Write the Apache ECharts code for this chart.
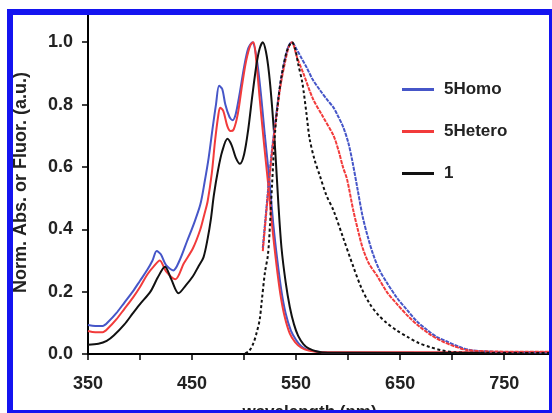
<!DOCTYPE html>
<html>
<head>
<meta charset="utf-8">
<script src="https://cdn.jsdelivr.net/npm/echarts@6/dist/echarts.min.js"></script>
<style>
  html, body { margin: 0; padding: 0; background: #fff; }
  #chart { width: 552px; height: 413px; }
</style>
</head>
<body>
<div id="chart"></div>
<script>
// [wavelength nm, normalised intensity]
const homoAbs = [[350,0.093],[357,0.09],[364,0.09],[370,0.105],[377,0.13],[385,0.165],[393,0.2],[400,0.235],[407,0.27],[412,0.3],[416,0.33],[420,0.32],[425,0.285],[432,0.268],[438,0.3],[445,0.36],[452,0.42],[458,0.48],[462,0.55],[466,0.63],[470,0.73],[473,0.8],[476,0.86],[479,0.85],[482,0.8],[486,0.76],[489,0.75],[492,0.77],[496,0.84],[500,0.92],[504,0.98],[508,1.0],[512,0.95],[516,0.84],[520,0.7],[524,0.57],[528,0.42],[532,0.3],[536,0.2],[540,0.13],[545,0.075],[550,0.045],[555,0.025],[560,0.015],[570,0.008],[580,0.005],[650,0.004],[795,0.004]];
const homoEm = [[518,0.34],[521,0.45],[524,0.56],[527,0.66],[531,0.77],[535,0.87],[539,0.94],[543,0.99],[546,1.0],[550,0.98],[555,0.95],[560,0.92],[566,0.88],[573,0.846],[580,0.815],[586,0.79],[590,0.765],[595,0.73],[600,0.68],[604,0.62],[609,0.53],[614,0.44],[619,0.375],[624,0.32],[630,0.27],[637,0.23],[647,0.18],[657,0.14],[666,0.105],[676,0.077],[685,0.055],[695,0.04],[706,0.024],[717,0.013],[740,0.007],[795,0.005]];
const heteroAbs = [[350,0.074],[357,0.07],[364,0.07],[370,0.085],[377,0.11],[385,0.145],[393,0.18],[400,0.215],[407,0.255],[413,0.28],[419,0.3],[425,0.265],[434,0.24],[442,0.29],[451,0.34],[458,0.4],[462,0.45],[465,0.49],[469,0.58],[472,0.68],[475,0.76],[477,0.79],[480,0.78],[484,0.73],[487,0.715],[490,0.72],[494,0.77],[498,0.86],[502,0.94],[506,0.99],[509,1.0],[512,0.93],[515,0.82],[519,0.68],[523,0.55],[527,0.41],[531,0.29],[535,0.19],[539,0.12],[544,0.065],[549,0.038],[555,0.02],[562,0.011],[575,0.006],[650,0.006],[795,0.006]];
const heteroEm = [[518,0.33],[521,0.44],[524,0.55],[527,0.65],[531,0.76],[535,0.86],[539,0.93],[543,0.985],[546,1.0],[551,0.95],[557,0.9],[566,0.82],[576,0.76],[586,0.7],[591,0.65],[595,0.6],[599,0.56],[605,0.46],[610,0.39],[614,0.34],[620,0.29],[628,0.25],[637,0.2],[647,0.16],[658,0.12],[669,0.087],[680,0.06],[691,0.04],[702,0.025],[714,0.013],[740,0.008],[795,0.007]];
const oneAbs = [[350,0.03],[360,0.033],[368,0.042],[375,0.06],[385,0.095],[393,0.13],[400,0.16],[410,0.2],[417,0.245],[424,0.28],[430,0.24],[437,0.195],[444,0.22],[451,0.25],[456,0.28],[461,0.31],[465,0.37],[468,0.43],[471,0.51],[475,0.59],[479,0.65],[484,0.69],[488,0.67],[492,0.63],[496,0.61],[500,0.64],[504,0.72],[508,0.83],[512,0.93],[515,0.98],[518,1.0],[521,0.97],[524,0.9],[527,0.79],[530,0.65],[533,0.48],[536,0.34],[540,0.23],[544,0.15],[548,0.095],[552,0.058],[557,0.032],[562,0.018],[570,0.008],[580,0.004],[795,0.003]];
const oneEm = [[501,0.002],[505,0.01],[509,0.035],[512,0.067],[515,0.11],[517,0.17],[520,0.26],[523,0.32],[525,0.42],[527,0.55],[530,0.72],[533,0.82],[536,0.89],[541,0.97],[546,1.0],[549,0.98],[552,0.93],[556,0.87],[560,0.77],[563,0.69],[568,0.62],[573,0.57],[579,0.51],[586,0.46],[595,0.375],[605,0.28],[613,0.21],[621,0.16],[629,0.125],[637,0.1],[647,0.075],[657,0.055],[668,0.035],[679,0.022],[690,0.012],[701,0.006],[720,0.004],[795,0.003]];

const legendNames = ['5Homo', '5Hetero', '1'];
const xTicks = [350, 450, 550, 650, 750];

const BLUE = '#4656c8', RED = '#f23b3b', BLACK = '#111';
const FONT = 'Liberation Sans';

const chart = echarts.init(document.getElementById('chart'), null, { renderer: 'canvas' });

function line(name, data, color, dash) {
  return {
    name: name,
    type: 'line',
    data: data,
    showSymbol: false,
    smooth: 0.3,
    animation: false,
    lineStyle: { color: color, width: 2, type: dash || 'solid' },
    itemStyle: { color: color }
  };
}

chart.setOption({
  backgroundColor: '#fff',
  animation: false,
  grid: { left: 88, top: 11, right: 1, bottom: 59, outerBoundsMode: 'none', containLabel: false },
  legend: {
    data: legendNames,
    orient: 'vertical',
    left: 397,
    top: 76,
    icon: 'rect',
    itemWidth: 32,
    itemHeight: 3,
    itemGap: 25,
    textStyle: { fontFamily: FONT, fontWeight: 'bold', fontSize: 17, color: '#222', padding: [0, 0, 0, 5] }
  },
  xAxis: {
    type: 'value',
    min: 350,
    max: 795,
    interval: 50,
    name: 'wavelength (nm)',
    nameLocation: 'middle',
    nameGap: 50,
    nameTextStyle: { fontFamily: FONT, fontWeight: 'bold', fontSize: 17, color: '#222', padding: [0, 20, 0, 0] },
    axisLine: { lineStyle: { color: '#000', width: 2 } },
    axisTick: { length: 6, lineStyle: { color: '#000', width: 1.5 } },
    axisLabel: {
      margin: 21,
      fontFamily: FONT, fontWeight: 'bold', fontSize: 18, color: '#222',
      formatter: v => xTicks.indexOf(v) >= 0 ? String(v) : ''
    },
    splitLine: { show: false }
  },
  yAxis: {
    type: 'value',
    min: 0,
    max: 1.1,
    interval: 0.2,
    name: 'Norm. Abs. or Fluor. (a.u.)',
    nameLocation: 'middle',
    nameGap: 58,
    nameTextStyle: { fontFamily: FONT, fontWeight: 'bold', fontSize: 18, color: '#222' },
    axisLine: { show: true, lineStyle: { color: '#000', width: 2 } },
    axisTick: { show: true, length: 6, lineStyle: { color: '#000', width: 1.5 } },
    axisLabel: {
      margin: 15,
      fontFamily: FONT, fontWeight: 'bold', fontSize: 18, color: '#222',
      formatter: v => v > 1.01 ? '' : v.toFixed(1)
    },
    splitLine: { show: false }
  },
  series: [
    line('5Homo', homoAbs, BLUE),
    line('5Hetero', heteroAbs, RED),
    line('1', oneAbs, BLACK),
    line('5Homo', homoEm, BLUE, [4, 1]),
    line('5Hetero', heteroEm, RED, [4, 1]),
    line('1', oneEm, BLACK, [3, 2.5])
  ],
  graphic: [
    { type: 'rect', z: 100, shape: { x: 7, y: 9, width: 545, height: 6 }, style: { fill: '#1414f0' } },
    { type: 'rect', z: 100, shape: { x: 7, y: 9, width: 6, height: 404 }, style: { fill: '#1414f0' } },
    { type: 'rect', z: 100, shape: { x: 549, y: 9, width: 3, height: 404 }, style: { fill: '#1414f0' } },
    { type: 'rect', z: 100, shape: { x: 7, y: 410, width: 545, height: 3 }, style: { fill: '#1414f0' } }
  ]
});
</script>
</body>
</html>
